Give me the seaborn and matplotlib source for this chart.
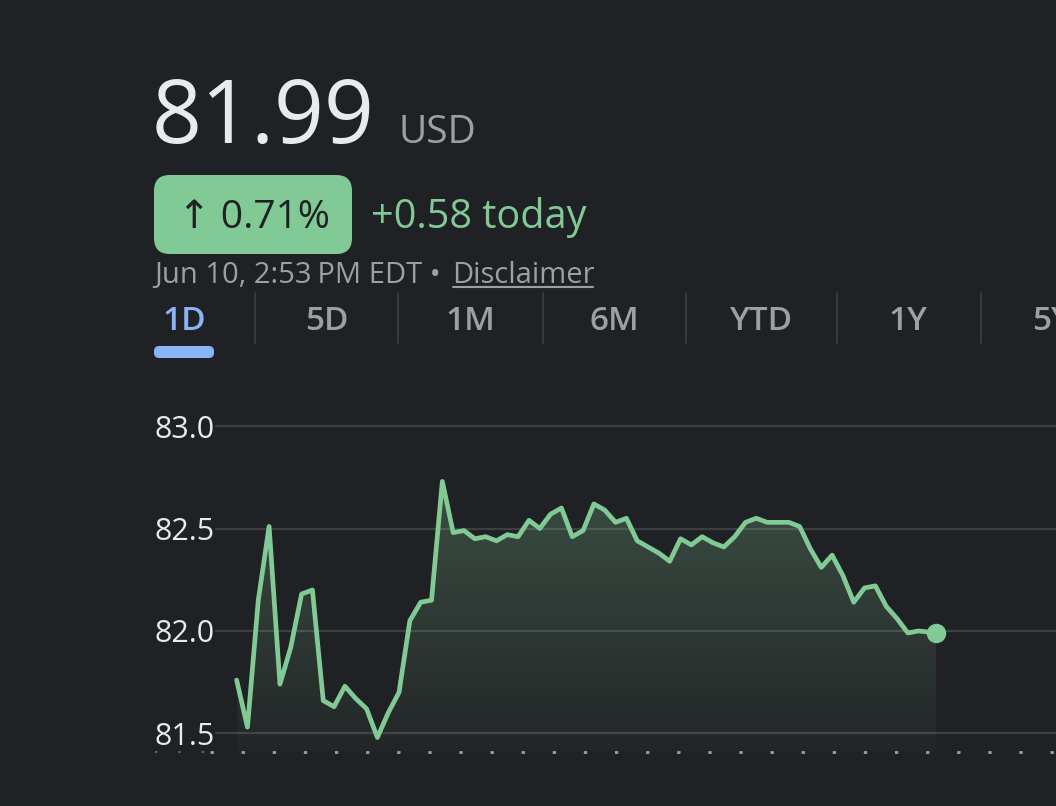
import numpy as np
import pandas as pd
import seaborn as sns
import matplotlib.pyplot as plt
from matplotlib.patches import FancyBboxPatch
from matplotlib.lines import Line2D
from matplotlib.colors import to_rgb

# minutes after 9:30 (5 min bars, last one is 2:53 PM)
minutes = list(range(0, 320, 5)) + [323]
prices = [81.76, 81.53, 82.15, 82.51, 81.74, 81.92, 82.18, 82.20, 81.66, 81.63,
          81.73, 81.67, 81.62, 81.48, 81.60, 81.70, 82.05, 82.14, 82.15, 82.73,
          82.48, 82.49, 82.45, 82.46, 82.44, 82.47, 82.46, 82.54, 82.50, 82.57,
          82.60, 82.46, 82.49, 82.62, 82.59, 82.53, 82.55, 82.44, 82.41, 82.38,
          82.34, 82.45, 82.42, 82.46, 82.43, 82.41, 82.46, 82.53, 82.55, 82.53,
          82.53, 82.53, 82.51, 82.40, 82.31, 82.37, 82.27, 82.14, 82.21, 82.22,
          82.12, 82.06, 81.99, 82.00, 81.99]
prev_close = 81.41
y_ticks = [81.5, 82.0, 82.5, 83.0]
tabs = ["1D", "5D", "1M", "6M", "YTD", "1Y", "5Y"]

BG = "#202124"
GREEN = "#81c995"
GREY = "#9aa0a6"
WHITE = "#e8eaed"
BLUE = "#8ab4f8"
GRID = "#3c4043"

sns.set_theme(style="dark", rc={"axes.facecolor": BG, "figure.facecolor": BG})
plt.rcParams['font.family'] = ['Open Sans', 'DejaVu Sans']

W, H = 1056, 806
fig = plt.figure(figsize=(W / 100, H / 100), dpi=100)

def px(x, y):
    return x / W, 1 - y / H

# header
fig.text(*px(152, 143), "81.99", fontsize=63, color=WHITE, va="baseline", ha="left")
fig.text(*px(399, 143), "USD", fontsize=28, color=GREY, va="baseline", ha="left")

pill = FancyBboxPatch(px(154, 254), 198 / W, 79 / H, boxstyle="round,pad=0,rounding_size=0.015",
                      transform=fig.transFigure, facecolor=GREEN, edgecolor="none",
                      mutation_aspect=W / H)
fig.patches.append(pill)
fig.text(*px(254, 228), "\u2191 0.71%", fontsize=28, color=BG, va="baseline", ha="center")
fig.text(*px(371, 228), "+0.58 today", fontsize=28.5, color=GREEN, va="baseline", ha="left")

fig.text(*px(154, 283), "Jun 10, 2:53\u202fPM EDT \u2022", fontsize=21, color=GREY,
         va="baseline", ha="left")
fig.text(*px(452, 283), "Disclaimer", fontsize=21, color=GREY, va="baseline", ha="left")
fig.lines.append(Line2D([453 / W, 593 / W], [1 - 287 / H, 1 - 287 / H], color=GREY,
                        linewidth=1.5, transform=fig.transFigure))

# period tabs
tab_x = [184, 327, 470, 614, 761, 908, 1052]
for lab, x in zip(tabs, tab_x):
    fig.text(*px(x, 330), lab, fontsize=24, color=BLUE if lab == "1D" else GREY,
             va="baseline", ha="center", fontweight="semibold")
for sx in [255, 398, 543, 686, 837, 981]:
    fig.lines.append(Line2D([sx / W, sx / W], [1 - 293 / H, 1 - 343 / H], color=GRID,
                            linewidth=1.2, transform=fig.transFigure))
under = FancyBboxPatch(px(154, 358), 60 / W, 12 / H, boxstyle="round,pad=0,rounding_size=0.005",
                       transform=fig.transFigure, facecolor=BLUE, edgecolor="none",
                       mutation_aspect=W / H)
fig.patches.append(under)

# chart
ax = fig.add_axes([155 / W, 1 - 770 / H, 901 / W, 390 / H])
df = pd.DataFrame({"minute": minutes, "price": prices})

poly = ax.fill_between(df["minute"], df["price"], prev_close, facecolor="none", edgecolor="none")
top = max(prices)
grad = np.zeros((256, 1, 4))
grad[:, 0, :3] = to_rgb(GREEN)
grad[:, 0, 3] = np.linspace(0.03, 0.27, 256)
im = ax.imshow(grad, extent=[minutes[0], minutes[-1], prev_close, top], origin="lower",
               aspect="auto", zorder=1)
im.set_clip_path(poly.get_paths()[0], transform=ax.transData)

grid_start = (216 - 155) / 901
for yv in y_ticks:
    ax.axhline(yv, xmin=grid_start, xmax=1, color=GRID, linewidth=1.6, zorder=0.5)

ax.axhline(prev_close, xmin=grid_start - 0.007, xmax=1, color=GREY, linewidth=2,
           linestyle=(0, (1.2, 10)), zorder=0.6)
ax.axhline(prev_close, xmin=0, xmax=grid_start - 0.007, color="#5f6368", linewidth=1.5,
           linestyle=(0, (1.2, 10)), zorder=0.6)

sns.lineplot(data=df, x="minute", y="price", color=GREEN, linewidth=3.4, ax=ax, zorder=3)
ax.plot(minutes[-1], prices[-1], "o", color=GREEN, markersize=13, zorder=4)

ax.set_xlim(-37.7, 378.4)
ax.set_ylim(81.321, 83.225)
ax.set_yticks(y_ticks)
ax.set_yticklabels([f"{t:.1f}" for t in y_ticks])
ax.tick_params(axis="y", length=0, pad=0, labelsize=22, labelcolor=WHITE)
for lab in ax.get_yticklabels():
    lab.set_horizontalalignment("left")
ax.set_xticks([])
ax.set_xlabel("")
ax.set_ylabel("")
ax.grid(False)
for s in ax.spines.values():
    s.set_visible(False)

fig.savefig("out.png", dpi=100, facecolor=BG)
